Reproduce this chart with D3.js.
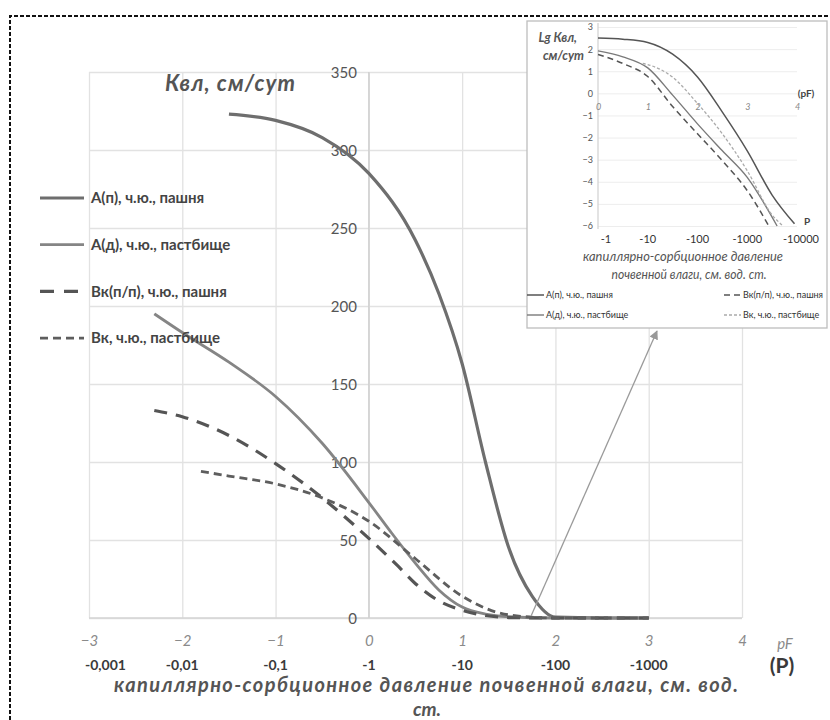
<!DOCTYPE html>
<html><head><meta charset="utf-8">
<script src="https://cdn.jsdelivr.net/npm/d3@7"></script>
<style>
body{margin:0;background:#fff;}
svg{display:block;font-family:Lato,"Open Sans","DejaVu Sans",sans-serif;}
</style></head>
<body><svg id="c" width="830" height="720"></svg>
<script>
// ---------- data ----------
const pfTicks = [-3,-2,-1,0,1,2,3,4];
const pTickPF = [-3,-2,-1,0,1,2,3];
const pTickLabels = ["-0,001","-0,01","-0,1","-1","-10","-100","-1000"];
const yTicks = [0,50,100,150,200,250,300,350];

const seriesNames = ["А(п), ч.ю., пашня","А(д), ч.ю., пастбище","Вк(п/п), ч.ю., пашня","Вк, ч.ю., пастбище"];

const apPF  = [-1.5,-1,-0.5,0,0.5,0.75,1,1.25,1.5,1.75,2,2.5,3];
const apK   = [323,319,308,285,242,208,163,100,45,14,0.5,0,0];
const adPF  = [-2.3,-2,-1.5,-1,-0.5,0,0.25,0.5,0.75,1,1.25,1.5,2,2.5,3];
const adK   = [195,183,164,142,112,74,54,35,18,7,2.5,0.8,0,0,0];
const vkpPF = [-2.3,-2,-1.5,-1,-0.5,0,0.3,0.5,0.75,1,1.5,2,2.5,3];
const vkpK  = [133,129,117,99,77,51,34,22,11,5,0.3,0,0,0];
const vkPF  = [-1.8,-1.5,-1,-0.5,0,0.5,1,1.5,2,2.5,3];
const vkK   = [94,91,86,77,62,38,14,2,0,0,0];

// inset (lg K vs pF)
const inPfTicks = [0,1,2,3,4];
const inPLabels = ["-1","-10","-100","-1000","-10000"];
const inYTicks = [3,2,1,0,-1,-2,-3,-4,-5,-6];
const iApPF = [0,0.5,1,1.5,2,2.5,3,3.5,3.95];
const iApLg = [2.5,2.45,2.3,1.77,0.74,-0.85,-2.6,-4.6,-5.9];
const iAdPF = [0,0.5,1,1.5,2,2.5,3,3.6];
const iAdLg = [1.92,1.65,1.15,-0.08,-1.38,-2.6,-3.8,-6.0];
const iVpPF = [0,0.5,1,1.5,2,2.5,3,3.46];
const iVpLg = [1.76,1.35,0.76,-0.6,-1.83,-3.05,-4.4,-6.1];
const iVkPF = [0.9,1,1.5,2,2.5,3,3.5,3.72];
const iVkLg = [1.35,1.3,0.73,-0.46,-1.83,-3.5,-5.5,-6.0];

// ---------- drawing ----------
const svg = d3.select("#c");
const FONT = 'Lato,"Open Sans","DejaVu Sans",sans-serif';

// dashed frame
svg.append("path").attr("d","M10,720 L10,16 L830,16")
  .attr("fill","none").attr("stroke","#111").attr("stroke-width",2).attr("stroke-dasharray","4,2");

const x = d3.scaleLinear().domain([-3,4]).range([89,742]);
const y = d3.scaleLinear().domain([0,350]).range([618,72]);

// grid
const g = svg.append("g");
g.append("g").attr("transform","translate(0,618)")
  .call(d3.axisBottom(x).tickValues(pfTicks).tickSize(-(618-72)).tickFormat(""))
  .call(a=>a.select(".domain").remove())
  .call(a=>a.selectAll("line").attr("stroke","#e2e2e2").attr("stroke-width",1.3));
g.append("g").attr("transform","translate(89,0)")
  .call(d3.axisLeft(y).tickValues(yTicks).tickSize(-(742-89)).tickFormat(""))
  .call(a=>a.select(".domain").remove())
  .call(a=>a.selectAll("line").attr("stroke","#e2e2e2").attr("stroke-width",1.3));
g.append("line").attr("x1",x(-3)).attr("x2",x(4)).attr("y1",y(0)).attr("y2",y(0)).attr("stroke","#d4d4d4").attr("stroke-width",1.5);
g.append("line").attr("x1",x(0)).attr("x2",x(0)).attr("y1",y(0)).attr("y2",y(350)).attr("stroke","#d0d0d0").attr("stroke-width",1.5);

// y tick labels
const ya = svg.append("g").attr("transform",`translate(${x(0)},0)`)
  .call(d3.axisLeft(y).tickValues(yTicks).tickSize(0).tickPadding(12));
ya.select(".domain").remove();
ya.selectAll("text").attr("font-family",FONT).attr("font-size",15).attr("fill","#555").attr("dy","0.35em");

// pF tick labels
const xa = svg.append("g").attr("transform","translate(0,631)")
  .call(d3.axisBottom(x).tickValues(pfTicks).tickSize(0).tickPadding(4).tickFormat(d3.format("d")));
xa.select(".domain").remove();
xa.selectAll("text").attr("font-family",FONT).attr("font-size",15).attr("font-style","italic").attr("fill","#8a8a8a");
svg.append("text").attr("x",785).attr("y",649).attr("text-anchor","middle").attr("font-family",FONT)
  .attr("font-size",15).attr("font-style","italic").attr("fill","#8a8a8a").text("pF");

// P labels
svg.append("g").selectAll("text").data(pTickPF).join("text")
  .attr("x",(d,i)=> i===0 ? x(d)-4 : x(d))
  .attr("text-anchor",(d,i)=> i===0 ? "start" : "middle")
  .attr("y",670).attr("font-family",FONT).attr("font-size",14).attr("font-weight","bold").attr("fill","#3a3a3a")
  .text((d,i)=>pTickLabels[i]);
svg.append("text").attr("x",782).attr("y",673).attr("text-anchor","middle").attr("font-family",FONT)
  .attr("font-size",21).attr("font-weight","bold").attr("fill","#3a3a3a").text("(P)");

// axis titles
svg.append("text").attr("x",114).attr("y",692).attr("font-family",FONT).attr("font-size",20)
  .attr("font-weight","bold").attr("font-style","italic").attr("fill","#555")
  .attr("textLength",624).attr("lengthAdjust","spacing")
  .text("капиллярно-сорбционное  давление почвенной влаги, см. вод.");
svg.append("text").attr("x",427).attr("y",716).attr("text-anchor","middle").attr("font-family",FONT).attr("font-size",19)
  .attr("font-weight","bold").attr("font-style","italic").attr("fill","#555").text("ст.");
svg.append("text").attr("x",165).attr("y",91).attr("font-family",FONT).attr("font-size",22)
  .attr("font-weight","bold").attr("font-style","italic").attr("fill","#555")
  .attr("textLength",130).attr("lengthAdjust","spacing").text("Квл, см/сут");

// series
const styles = [
  {stroke:"#6e6e6e", w:3.2, dash:null},
  {stroke:"#858585", w:2.8, dash:null},
  {stroke:"#555555", w:3.2, dash:"13,9"},
  {stroke:"#5e5e5e", w:2.8, dash:"8,5"}
];
const mainData = [[apPF,apK],[adPF,adK],[vkpPF,vkpK],[vkPF,vkK]];
const line = d3.line().x(d=>x(d[0])).y(d=>y(d[1])).curve(d3.curveMonotoneX);
mainData.forEach((s,i)=>{
  const pts = s[0].map((p,j)=>[p,s[1][j]]);
  svg.append("path").attr("d",line(pts)).attr("fill","none")
    .attr("stroke",styles[i].stroke).attr("stroke-width",styles[i].w)
    .attr("stroke-dasharray",styles[i].dash).attr("stroke-linecap","butt");
});

// main legend
const lg = svg.append("g");
seriesNames.forEach((n,i)=>{
  const yy = 198 + i*46.7;
  lg.append("line").attr("x1",40).attr("x2",i===2?78:84).attr("y1",yy).attr("y2",yy)
    .attr("stroke",styles[i].stroke).attr("stroke-width",styles[i].w)
    .attr("stroke-dasharray", i===2 ? "14,10" : styles[i].dash);
  lg.append("text").attr("x",91).attr("y",yy).attr("dy","0.35em").attr("font-family",FONT)
    .attr("font-size",15).attr("font-weight","bold").attr("fill","#444").text(n);
});

// arrow
svg.append("defs").append("marker").attr("id","ah").attr("viewBox","0 0 10 10").attr("refX",9).attr("refY",5)
  .attr("markerWidth",7).attr("markerHeight",7).attr("orient","auto")
  .append("path").attr("d","M0,0 L10,5 L0,10 z").attr("fill","#999");
svg.append("line").attr("x1",x(1.74)).attr("y1",y(1.5)).attr("x2",657).attr("y2",331)
  .attr("stroke","#9a9a9a").attr("stroke-width",1.3).attr("marker-end","url(#ah)");

// ---------- inset ----------
const ins = svg.append("g");
ins.append("rect").attr("x",527).attr("y",21).attr("width",300).attr("height",307)
  .attr("fill","#fff").attr("stroke","#bdbdbd").attr("stroke-width",1.3);
const ix = d3.scaleLinear().domain([0,4]).range([598,797]);
const iy = d3.scaleLinear().domain([-6,3]).range([226,27]);
ins.append("g").attr("transform","translate(598,0)")
  .call(d3.axisLeft(iy).tickValues(inYTicks).tickSize(-(797-598)).tickFormat(""))
  .call(a=>a.select(".domain").remove())
  .call(a=>a.selectAll("line").attr("stroke","#ededed").attr("stroke-width",1));
ins.append("line").attr("x1",598).attr("x2",598).attr("y1",iy(3)-4).attr("y2",iy(-6)+3).attr("stroke","#d0d0d0").attr("stroke-width",1.2);
const iya = ins.append("g").attr("transform","translate(598,0)")
  .call(d3.axisLeft(iy).tickValues(inYTicks).tickSize(0).tickPadding(5));
iya.select(".domain").remove();
iya.selectAll("text").attr("font-family",FONT).attr("font-size",9).attr("fill","#555");
const ixa = ins.append("g").attr("transform",`translate(0,${iy(0)+8})`)
  .call(d3.axisBottom(ix).tickValues(inPfTicks).tickSize(0).tickPadding(2).tickFormat(d3.format("d")));
ixa.select(".domain").remove();
ixa.selectAll("text").attr("font-family",FONT).attr("font-size",9).attr("font-style","italic").attr("fill","#888");
ins.append("text").attr("x",806).attr("y",iy(0)+4).attr("text-anchor","middle").attr("font-family",FONT)
  .attr("font-size",10).attr("font-weight","bold").attr("fill","#444").text("(pF)");
ins.append("text").attr("x",807).attr("y",225).attr("text-anchor","middle").attr("font-family",FONT)
  .attr("font-size",10).attr("font-weight","bold").attr("fill","#444").text("P");
ins.append("g").selectAll("text").data(inPfTicks).join("text")
  .attr("x",(d,i)=> i===0 ? ix(d)+8 : (i===4 ? ix(d)+4 : ix(d)))
  .attr("y",243).attr("text-anchor","middle").attr("font-family",FONT).attr("font-size",11).attr("fill","#333")
  .text((d,i)=>inPLabels[i]);
ins.append("text").attr("x",577).attr("y",42).attr("text-anchor","end").attr("font-family",FONT)
  .attr("font-size",12.5).attr("font-weight","bold").attr("font-style","italic").attr("fill","#555").text("Lg Квл,");
ins.append("text").attr("x",584).attr("y",60).attr("text-anchor","end").attr("font-family",FONT)
  .attr("font-size",12.5).attr("font-weight","bold").attr("font-style","italic").attr("fill","#555").text("см/сут");
ins.append("text").attr("x",683).attr("y",261).attr("text-anchor","middle").attr("font-family",FONT)
  .attr("font-size",12.5).attr("font-style","italic").attr("fill","#555")
  .attr("textLength",200).attr("lengthAdjust","spacingAndGlyphs").text("капиллярно-сорбционное давление");
ins.append("text").attr("x",689).attr("y",279).attr("text-anchor","middle").attr("font-family",FONT)
  .attr("font-size",12.5).attr("font-style","italic").attr("fill","#555")
  .attr("textLength",155).attr("lengthAdjust","spacingAndGlyphs").text("почвенной влаги, см. вод. ст.");

const iStyles = [
  {stroke:"#555", w:1.5, dash:null},
  {stroke:"#7a7a7a", w:1.4, dash:null},
  {stroke:"#555", w:1.5, dash:"6,4"},
  {stroke:"#aaa", w:1.3, dash:"3,2"}
];
const iData = [[iApPF,iApLg],[iAdPF,iAdLg],[iVpPF,iVpLg],[iVkPF,iVkLg]];
const iline = d3.line().x(d=>ix(d[0])).y(d=>iy(d[1])).curve(d3.curveMonotoneX);
iData.forEach((s,i)=>{
  const pts = s[0].map((p,j)=>[p,s[1][j]]);
  ins.append("path").attr("d",iline(pts)).attr("fill","none")
    .attr("stroke",iStyles[i].stroke).attr("stroke-width",iStyles[i].w).attr("stroke-dasharray",iStyles[i].dash);
});
// inset legend
const legPos = [[527,295],[527,315],[724,295],[724,315]];
seriesNames.forEach((n,i)=>{
  const [lx,ly] = legPos[i];
  ins.append("line").attr("x1",lx).attr("x2",lx+17).attr("y1",ly).attr("y2",ly)
    .attr("stroke",iStyles[i].stroke).attr("stroke-width",iStyles[i].w).attr("stroke-dasharray",iStyles[i].dash);
  ins.append("text").attr("x",lx+19).attr("y",ly).attr("dy","0.35em").attr("font-family",FONT)
    .attr("font-size",9).attr("fill","#333").text(n);
});
</script></body></html>
